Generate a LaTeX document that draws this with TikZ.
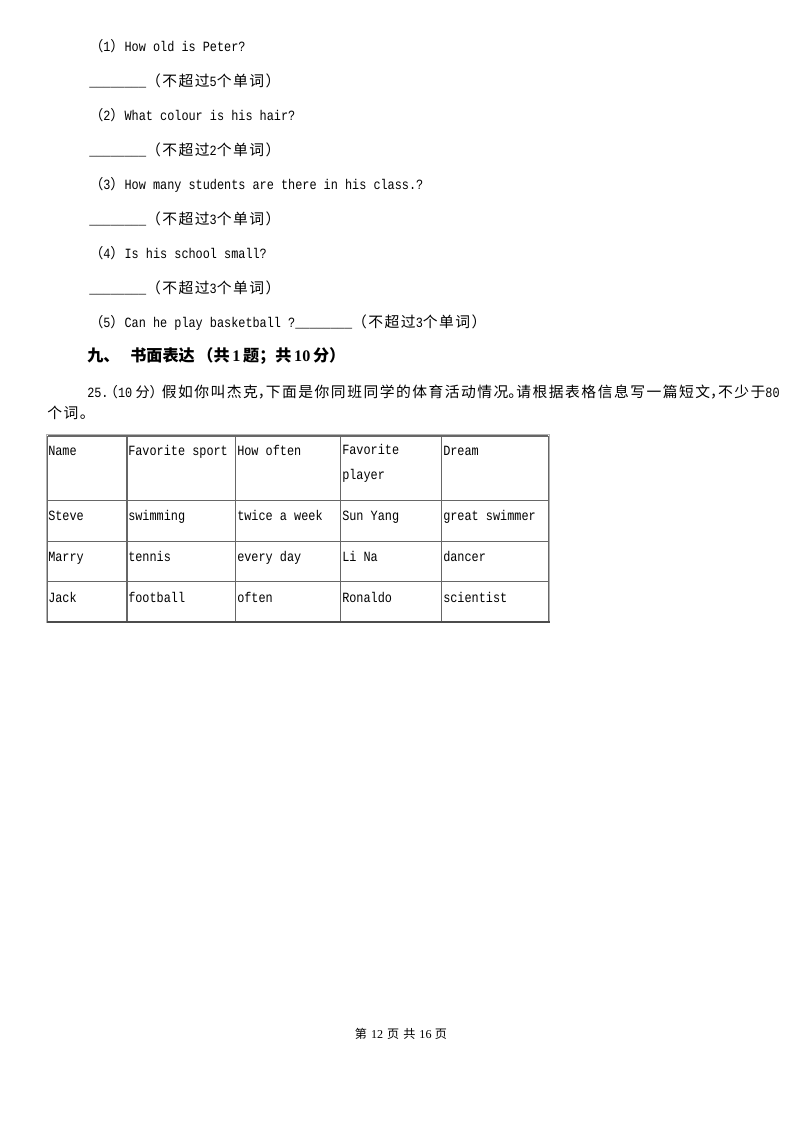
\documentclass[tikz,border=0pt]{standalone}
\usepackage{fontspec}
\usepackage{tikz}
\setmainfont{Liberation Mono}[FakeStretch=0.84]
\newfontfamily\cjk{Noto Sans CJK SC}
\newfontfamily\cjkl{Noto Sans CJK SC}[LetterSpace=10]
\newfontfamily\numfont{Liberation Serif}
\newcommand{\zh}[1]{{\cjk #1}}
\newcommand{\zhl}[1]{{\fontsize{11pt}{14pt}\selectfont\cjkl #1}}
\newcommand{\halfp}[1]{\makebox[6pt][l]{#1}}
\newcommand{\limit}[1]{\zhl{（不超过}#1\zhl{个单词）}}

\begin{document}
\begin{tikzpicture}[x=0.7441pt,y=-0.7441pt]
\useasboundingbox (0,0) rectangle (800,1132);
\begin{scope}[every node/.style={anchor=base west,inner sep=0pt,
              font=\fontsize{10.5pt}{12pt}\selectfont}]
  \node (q1) at (89,51) {\zh{（}1\zh{）}How old is Peter?};
    \node (a1) at (89,86) {\_\_\_\_\_\_\_\_\limit{5}};
  \node (q2) at (89,120) {\zh{（}2\zh{）}What colour is his hair?};
    \node (a2) at (89,155) {\_\_\_\_\_\_\_\_\limit{2}};
  \node (q3) at (89,189) {\zh{（}3\zh{）}How many students are there in his class.?};
    \node (a3) at (89,224) {\_\_\_\_\_\_\_\_\limit{3}};
  \node (q4) at (89,258) {\zh{（}4\zh{）}Is his school small?};
    \node (a4) at (89,293) {\_\_\_\_\_\_\_\_\limit{3}};
  \node (q5) at (89,327) {\zh{（}5\zh{）}Can he play basketball ?\_\_\_\_\_\_\_\_\limit{3}};
  \node (part) at (87,361) {\fontsize{12pt}{14pt}\selectfont\cjk\bfseries
    九、\hspace{8pt}书面表达\hspace{2pt}（共\hspace{2pt}{\numfont 1}\hspace{2pt}题；共\hspace{2pt}{\numfont 10}\hspace{2pt}分）};
  \node (task) at (87,397) {25.\hspace{-3.5pt}\zh{（}10\hspace{2.5pt}\zh{分）}\hspace{-1.5pt}\zhl{假如你叫杰克\halfp{，}下面是你同班同学的体育活动情况\halfp{。}请根据表格信息写一篇短文\halfp{，}不少于}80};
  \node (task2) at (47,418) {\zhl{个词。}};
\end{scope}

% table
\begin{scope}[every node/.style={anchor=base west,inner sep=0pt,
              font=\fontsize{10.5pt}{17.9pt}\selectfont}]
  \node (name) at (48,455) {Name};
  \node (sport) at (128,455) {Favorite sport};
  \node (often) at (237,455) {How often};
  \node[align=left] (player) at (342,479) {Favorite\\player};
  \node (dream) at (443,455) {Dream};
  \node (steve) at (48,520) {Steve};
  \node (swim) at (128,520) {swimming};
  \node (twice) at (237,520) {twice a week};
  \node (sun) at (342,520) {Sun Yang};
  \node (great) at (443,520) {great swimmer};
  \node (marry) at (48,561) {Marry};
  \node (tennis) at (128,561) {tennis};
  \node (every) at (237,561) {every day};
  \node (lina) at (342,561) {Li Na};
  \node (dancer) at (443,561) {dancer};
  \node (jack) at (48,602) {Jack};
  \node (foot) at (128,602) {football};
  \node (oft) at (237,602) {often};
  \node (ronaldo) at (342,602) {Ronaldo};
  \node (sci) at (443,602) {scientist};
\end{scope}

\begin{scope}[line width=1.1pt, draw=black!60]
  \draw[gray!60] (46.5,434.5) rectangle (549.5,622.5);
  \draw (48,436) -- (548,436);
  \draw (48,500.5) -- (548,500.5);
  \draw (48,541.5) -- (548,541.5);
  \draw (48,581.5) -- (548,581.5);
  \draw (47.5,436) -- (47.5,622);
  \draw (127,436) -- (127,622);
  \draw (235.5,436) -- (235.5,622);
  \draw (340.5,436) -- (340.5,622);
  \draw (441.5,436) -- (441.5,622);
  \draw (548.5,436) -- (548.5,622);
  \draw[line width=1.8pt, black!70] (47,622) -- (550,622);
\end{scope}

\node[anchor=base, inner sep=0pt, font=\fontsize{9pt}{10pt}\selectfont] (page) at (401,1038)
  {\zh{第}\hspace{3pt}{\numfont 12}\hspace{3pt}\zh{页}\hspace{3pt}\zh{共}\hspace{3pt}{\numfont 16}\hspace{2.5pt}\zh{页}};
\end{tikzpicture}
\end{document}
